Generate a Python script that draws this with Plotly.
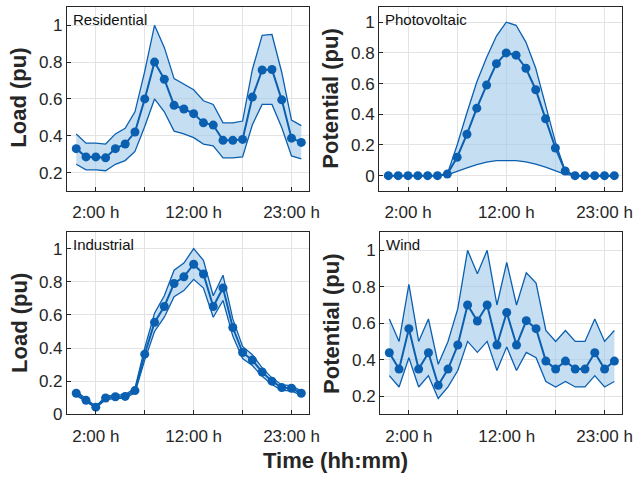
import plotly.graph_objects as go

hours = list(range(1, 25))
tick_pos = [3, 8, 13, 18, 23]
tick_labels = ["2:00 h", "", "12:00 h", "", "23:00 h"]

res_mean = [0.33, 0.285, 0.285, 0.28, 0.33, 0.355, 0.42, 0.60, 0.80, 0.707, 0.565, 0.545,
            0.52, 0.47, 0.458, 0.375, 0.375, 0.38, 0.61, 0.757, 0.76, 0.595, 0.387, 0.364]
res_up = [0.41, 0.36, 0.36, 0.355, 0.41, 0.44, 0.53, 0.75, 1.0, 0.88, 0.71, 0.68,
          0.65, 0.59, 0.57, 0.47, 0.47, 0.48, 0.76, 0.945, 0.95, 0.745, 0.485, 0.455]
res_lo = [0.245, 0.215, 0.215, 0.21, 0.245, 0.265, 0.315, 0.45, 0.60, 0.53, 0.425, 0.41,
          0.39, 0.355, 0.345, 0.28, 0.28, 0.285, 0.46, 0.57, 0.57, 0.445, 0.29, 0.275]

pv_mean = [0, 0, 0, 0, 0, 0, 0.01, 0.12, 0.27, 0.44, 0.59, 0.73,
           0.80, 0.785, 0.70, 0.56, 0.37, 0.18, 0.03, 0, 0, 0, 0, 0]
pv_up = [0, 0, 0, 0, 0, 0, 0.01, 0.20, 0.41, 0.61, 0.77, 0.91,
         1.0, 0.98, 0.87, 0.70, 0.46, 0.22, 0.03, 0, 0, 0, 0, 0]
pv_lo = [0, 0, 0, 0, 0, 0, 0.005, 0.03, 0.05, 0.072, 0.088, 0.098,
         0.10, 0.098, 0.09, 0.075, 0.055, 0.03, 0.008, 0, 0, 0, 0, 0]

ind_mean = [0.127, 0.084, 0.043, 0.098, 0.106, 0.108, 0.143, 0.363, 0.555, 0.651, 0.79, 0.83,
            0.906, 0.847, 0.651, 0.763, 0.524, 0.373, 0.327, 0.255, 0.20, 0.161, 0.157, 0.127]
ind_up = [0.14, 0.092, 0.047, 0.108, 0.117, 0.119, 0.157, 0.40, 0.61, 0.716, 0.87, 0.913,
          1.0, 0.93, 0.716, 0.84, 0.576, 0.41, 0.36, 0.28, 0.22, 0.177, 0.173, 0.14]
ind_lo = [0.114, 0.076, 0.039, 0.088, 0.095, 0.097, 0.129, 0.327, 0.50, 0.586, 0.71, 0.747,
          0.815, 0.762, 0.586, 0.687, 0.472, 0.336, 0.294, 0.23, 0.18, 0.145, 0.141, 0.114]

wind_mean = [0.438, 0.348, 0.57, 0.348, 0.438, 0.259, 0.348, 0.48, 0.70, 0.612, 0.70, 0.48,
             0.659, 0.48, 0.614, 0.57, 0.392, 0.348, 0.392, 0.348, 0.348, 0.438, 0.348, 0.392]
wind_up = [0.623, 0.50, 0.813, 0.50, 0.623, 0.374, 0.50, 0.68, 1.0, 0.872, 1.0, 0.70,
           0.934, 0.70, 0.877, 0.82, 0.56, 0.50, 0.56, 0.50, 0.50, 0.623, 0.50, 0.56]
wind_lo = [0.312, 0.25, 0.41, 0.25, 0.312, 0.187, 0.25, 0.34, 0.50, 0.44, 0.50, 0.34,
           0.47, 0.34, 0.44, 0.41, 0.28, 0.25, 0.28, 0.25, 0.25, 0.312, 0.25, 0.28]

panels = [
    ("Residential", res_mean, res_up, res_lo, [0.1, 1.1], [0.2, 0.4, 0.6, 0.8, 1.0], ["0.2", "0.4", "0.6", "0.8", "1"]),
    ("Photovoltaic", pv_mean, pv_up, pv_lo, [-0.1, 1.1], [0, 0.2, 0.4, 0.6, 0.8, 1.0], ["0", "0.2", "0.4", "0.6", "0.8", "1"]),
    ("Industrial", ind_mean, ind_up, ind_lo, [0, 1.1], [0, 0.2, 0.4, 0.6, 0.8, 1.0], ["0", "0.2", "0.4", "0.6", "0.8", "1"]),
    ("Wind", wind_mean, wind_up, wind_lo, [0.1, 1.1], [0.2, 0.4, 0.6, 0.8, 1.0], ["0.2", "0.4", "0.6", "0.8", "1"]),
]

W, H = 644, 485
boxes = [(68, 314, 7, 195), (385, 632, 7, 195), (68, 314, 237, 423), (386, 632, 237, 423)]

LINE = "#0b5fb0"
FILL = "rgba(160,200,232,0.6)"
TXT = "#262626"
FONT = "Liberation Sans, Arial, sans-serif"

fig = go.Figure()
layout = {}
annotations = []
for i, (name, mean, up, lo, yr, yt, ytt) in enumerate(panels):
    k = "" if i == 0 else str(i + 1)
    xa, ya = "x" + k, "y" + k
    fig.add_trace(go.Scatter(x=hours, y=lo, mode="lines", line=dict(color=LINE, width=1.3),
                             xaxis=xa, yaxis=ya, showlegend=False, hoverinfo="skip"))
    fig.add_trace(go.Scatter(x=hours, y=up, mode="lines", line=dict(color=LINE, width=1.3),
                             fill="tonexty", fillcolor=FILL,
                             xaxis=xa, yaxis=ya, showlegend=False, hoverinfo="skip"))
    fig.add_trace(go.Scatter(x=hours, y=mean, mode="lines+markers", line=dict(color=LINE, width=2),
                             marker=dict(color=LINE, size=9),
                             xaxis=xa, yaxis=ya, showlegend=False))
    x0, x1, t, b = boxes[i]
    common = dict(showline=True, linecolor="#262626", linewidth=1, mirror=True,
                  ticks="inside", ticklen=4, tickcolor="#262626",
                  showgrid=True, gridcolor="#e3e3e3", gridwidth=1, zeroline=False,
                  tickfont=dict(family=FONT, size=17, color=TXT))
    layout["xaxis" + k] = dict(domain=[x0 / W, x1 / W], anchor=ya, range=[0.05, 24.8],
                               tickmode="array", tickvals=tick_pos, ticktext=tick_labels,
                               ticklabelstandoff=6, **common)
    layout["yaxis" + k] = dict(domain=[1 - b / H, 1 - t / H], anchor=xa, range=yr,
                               tickmode="array", tickvals=yt, ticktext=ytt, **common)
    annotations.append(dict(text=name, xref="paper", yref="paper", x=(x0 + 4) / W, y=1 - (t + 2) / H,
                            xanchor="left", yanchor="top", showarrow=False,
                            font=dict(family=FONT, size=15, color="#111111")))

for label, xc, yc in [("Load (pu)", 19, 100), ("Potential (pu)", 336, 100),
                      ("Load (pu)", 19, 330), ("Potential (pu)", 336, 330)]:
    annotations.append(dict(text="<b>" + label + "</b>", xref="paper", yref="paper",
                            x=xc / W, y=1 - yc / H, xanchor="center", yanchor="middle",
                            textangle=-90, showarrow=False,
                            font=dict(family=FONT, size=22, color=TXT)))
annotations.append(dict(text="<b>Time (hh:mm)</b>", xref="paper", yref="paper",
                        x=341 / W, y=1 - 470 / H, xanchor="center", yanchor="middle",
                        showarrow=False, font=dict(family=FONT, size=22, color=TXT)))

fig.update_layout(width=W, height=H, margin=dict(l=0, r=0, t=0, b=0),
                  paper_bgcolor="white", plot_bgcolor="white",
                  annotations=annotations, **layout)

fig.write_html("out.html", config={"displayModeBar": False},
               post_script="document.body.style.margin='0';")
